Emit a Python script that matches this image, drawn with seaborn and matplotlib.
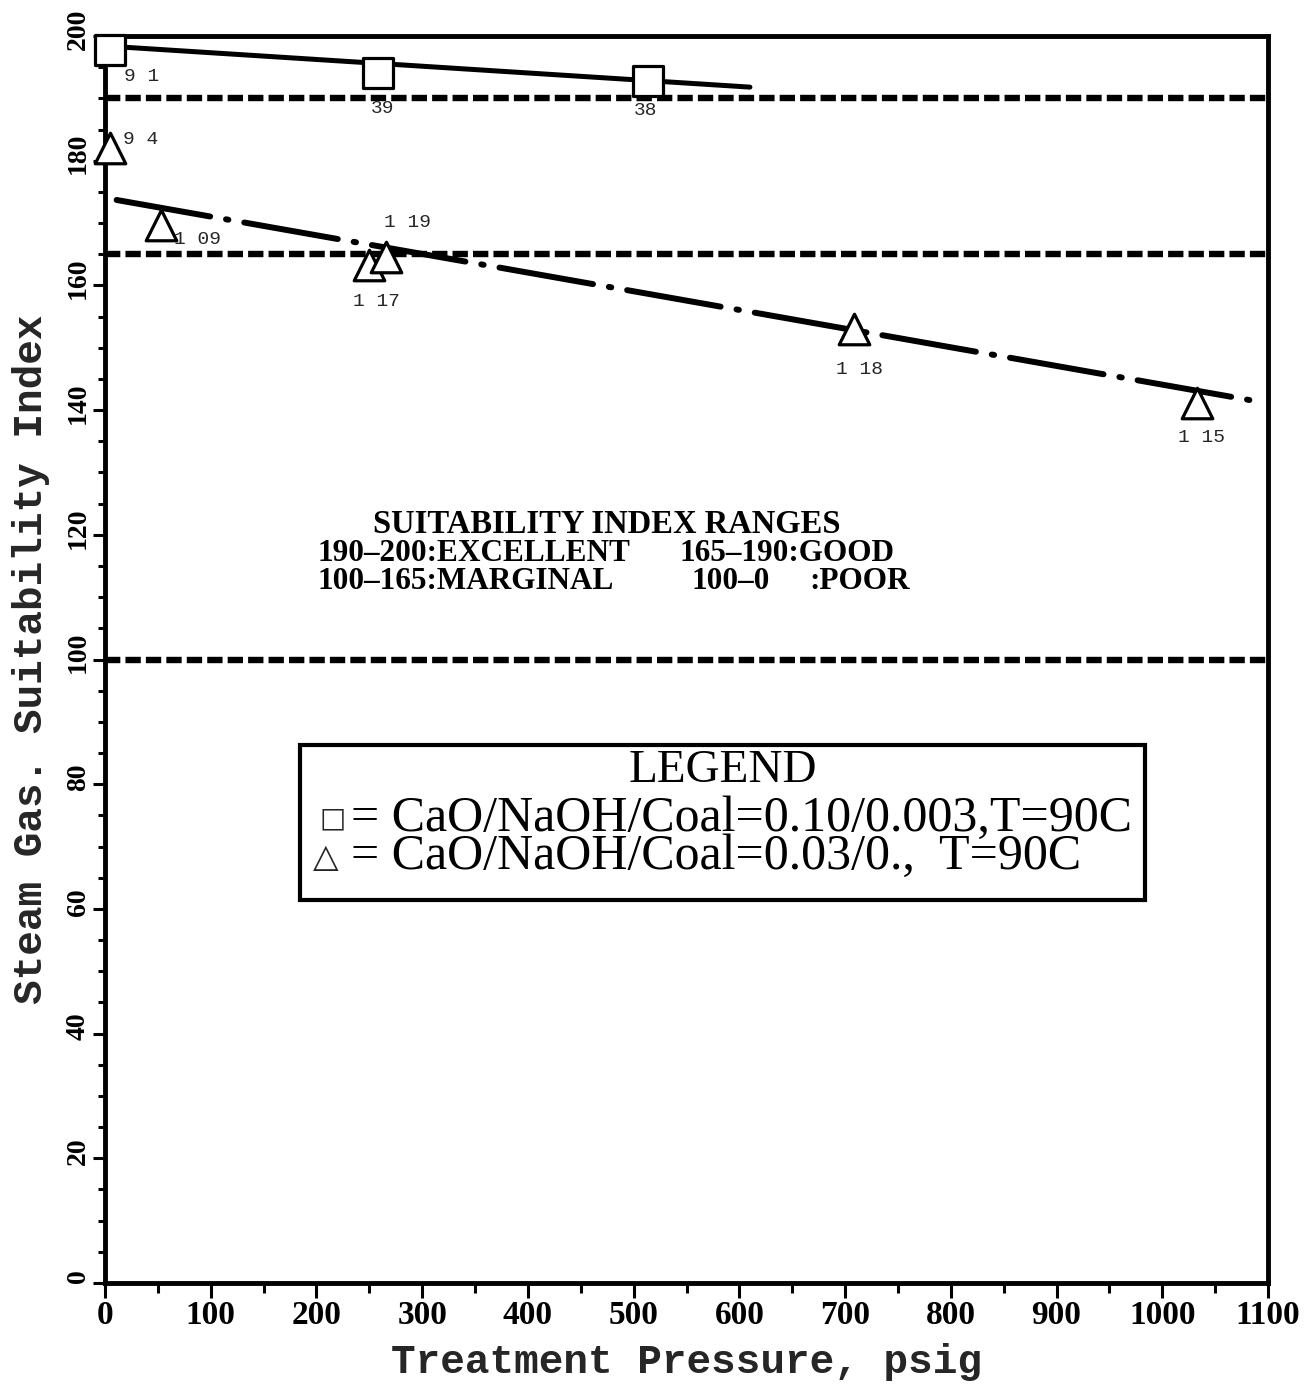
import matplotlib
matplotlib.use('Agg')
import matplotlib.pyplot as plt
import matplotlib.transforms as mtransforms
import seaborn as sns
import pandas as pd
from matplotlib.ticker import MultipleLocator
from matplotlib.patches import Rectangle

# ---------------- data ----------------
sq_pressure = [5, 258, 514]
sq_index = [197.8, 194.1, 192.8]
sq_runs = ['9 1', '39', '38']

tri_pressure = [5, 53, 250, 266, 708, 1033]
tri_index = [182.1, 169.7, 163.2, 164.6, 153.0, 141.1]
tri_runs = ['9 4', '1 09', '1 17', '1 19', '1 18', '1 15']

sq_fit_pressure = [0, 610]
sq_fit_index = [198.4, 191.8]
tri_fit_pressure = [11, 1083]
tri_fit_index = [173.7, 141.6]

range_limits = [190, 165, 100]

x_ticks = list(range(0, 1101, 100))
y_ticks = list(range(0, 201, 20))

ranges_title = 'SUITABILITY INDEX RANGES'
legend_title = 'LEGEND'
legend_labels = ['= CaO/NaOH/Coal=0.10/0.003,T=90C', '= CaO/NaOH/Coal=0.03/0.,  T=90C']

# ---------------- styling ----------------
sns.set_theme(style='ticks')
plt.rcParams['font.family'] = ['Liberation Serif', 'DejaVu Sans']
plt.rcParams['axes.edgecolor'] = 'black'

fig = plt.figure(figsize=(13.15, 13.84), dpi=100)
ax = fig.add_axes([105 / 1315, 1 - 1283 / 1384, 1163 / 1315, 1247 / 1384])

sq_df = pd.DataFrame({'p': sq_pressure, 'idx': sq_index})
tri_df = pd.DataFrame({'p': tri_pressure, 'idx': tri_index})
sq_fit = pd.DataFrame({'p': sq_fit_pressure, 'idx': sq_fit_index})
tri_fit = pd.DataFrame({'p': tri_fit_pressure, 'idx': tri_fit_index})

# range limit lines
for lim in range_limits:
    ax.axhline(lim, color='black', lw=4.6, linestyle=(0, (2.4, 0.8)), zorder=2)

# fitted lines
sns.lineplot(data=sq_fit, x='p', y='idx', ax=ax, color='black', lw=3.6,
             sort=False, estimator=None, zorder=3)
sns.lineplot(data=tri_fit, x='p', y='idx', ax=ax, color='black', lw=4.3,
             sort=False, estimator=None, zorder=3,
             linestyle=(0, (15.9, 2.7, 0.4, 2.7)), dash_capstyle='round')

# markers
sns.scatterplot(data=sq_df, x='p', y='idx', ax=ax, marker='s', s=22 ** 2,
                facecolor='white', edgecolor='black', linewidth=2.3, zorder=5, clip_on=False)
sns.scatterplot(data=tri_df, x='p', y='idx', ax=ax, marker='^', s=22 ** 2,
                facecolor='white', edgecolor='black', linewidth=2.3, zorder=5, clip_on=False)

# run labels
sq_off = [(31, -27), (5, -36), (-3, -30)]
tri_off = [(30, 8), (36, -15), (7, -36), (21, 34), (6, -40), (4, -34)]
for x, y, t, o in zip(sq_pressure, sq_index, sq_runs, sq_off):
    ax.annotate(t, (x, y), xytext=o, textcoords='offset pixels', ha='center', va='center',
                family='Liberation Mono', fontsize=14, zorder=6)
for x, y, t, o in zip(tri_pressure, tri_index, tri_runs, tri_off):
    ax.annotate(t, (x, y), xytext=o, textcoords='offset pixels', ha='center', va='center',
                family='Liberation Mono', fontsize=14, zorder=6)

# axes
ax.set_xlim(0, 1100)
ax.set_ylim(0, 200)
ax.set_xticks(x_ticks)
ax.set_xticklabels([str(v) for v in x_ticks], fontweight='bold', fontsize=24, family='Liberation Serif')
ax.set_yticks(y_ticks)
ax.set_yticklabels([str(v) for v in y_ticks], fontweight='bold', fontsize=20, family='Liberation Serif',
                   rotation=90, va='center')
ax.xaxis.set_minor_locator(MultipleLocator(50))
ax.yaxis.set_minor_locator(MultipleLocator(5))
ax.tick_params(axis='x', which='major', length=11, width=2.2, direction='out', pad=1, colors='black')
ax.tick_params(axis='x', which='minor', length=7, width=2.2, direction='out', colors='black')
ax.tick_params(axis='y', which='major', length=9, width=2.2, direction='out', pad=1, colors='black')
ax.tick_params(axis='y', which='minor', length=5, width=2.2, direction='out', colors='black')
for s in ax.spines.values():
    s.set_visible(True)
    s.set_linewidth(3.5)
    s.set_color('black')

# y tick labels sit slightly above their ticks in the reference
shift = mtransforms.ScaledTranslation(0, 7 / 100, fig.dpi_scale_trans)
for lbl in ax.get_yticklabels():
    lbl.set_transform(lbl.get_transform() + shift)

ax.set_xlabel('Treatment Pressure, psig', family='Liberation Mono', fontweight='bold', fontsize=29.5)
ax.set_ylabel('Steam Gas. Suitability Index', family='Liberation Mono', fontweight='bold', fontsize=29.5)
ax.xaxis.set_label_coords(0.5, -0.048)
ax.yaxis.set_label_coords(-0.047, 0.5)

# suitability ranges text
tkw = dict(transform=ax.transAxes, fontweight='bold', family='Liberation Serif',
           va='center', color='black')
ax.text(0.4316, 0.6079, ranges_title, ha='center', fontsize=23.5, **tkw)
ax.text(0.1823, 0.5854, '190\u2013200:EXCELLENT', ha='left', fontsize=22.5, **tkw)
ax.text(0.4944, 0.5854, '165\u2013190:GOOD', ha='left', fontsize=22.5, **tkw)
ax.text(0.1823, 0.5622, '100\u2013165:MARGINAL', ha='left', fontsize=22.5, **tkw)
ax.text(0.5047, 0.5622, '100\u20130', ha='left', fontsize=22.5, **tkw)
ax.text(0.6053, 0.5622, ':POOR', ha='left', fontsize=22.5, **tkw)

# legend box
ax.add_patch(Rectangle((0.1677, 0.3071), 0.7266, 0.1243, transform=ax.transAxes,
                       fill=True, facecolor='white', edgecolor='black', lw=3, zorder=4))
lkw = dict(transform=ax.transAxes, family='Liberation Serif', color='black', zorder=6)
ax.text(0.5314, 0.4105, legend_title, ha='center', va='center', fontsize=34, **lkw)
ax.text(0.2115, 0.3572, '\n'.join(legend_labels), ha='left', va='center', multialignment='left',
        linespacing=0.78, fontsize=36, **lkw)
ax.text(0.196, 0.3729, '\u25a1', ha='center', va='center', transform=ax.transAxes,
        fontsize=20, family='DejaVu Sans', zorder=6)
ax.text(0.19, 0.3416, '\u25b3', ha='center', va='center', transform=ax.transAxes,
        fontsize=24, family='DejaVu Sans', zorder=6)

fig.savefig('out.png', dpi=100, facecolor='white')
